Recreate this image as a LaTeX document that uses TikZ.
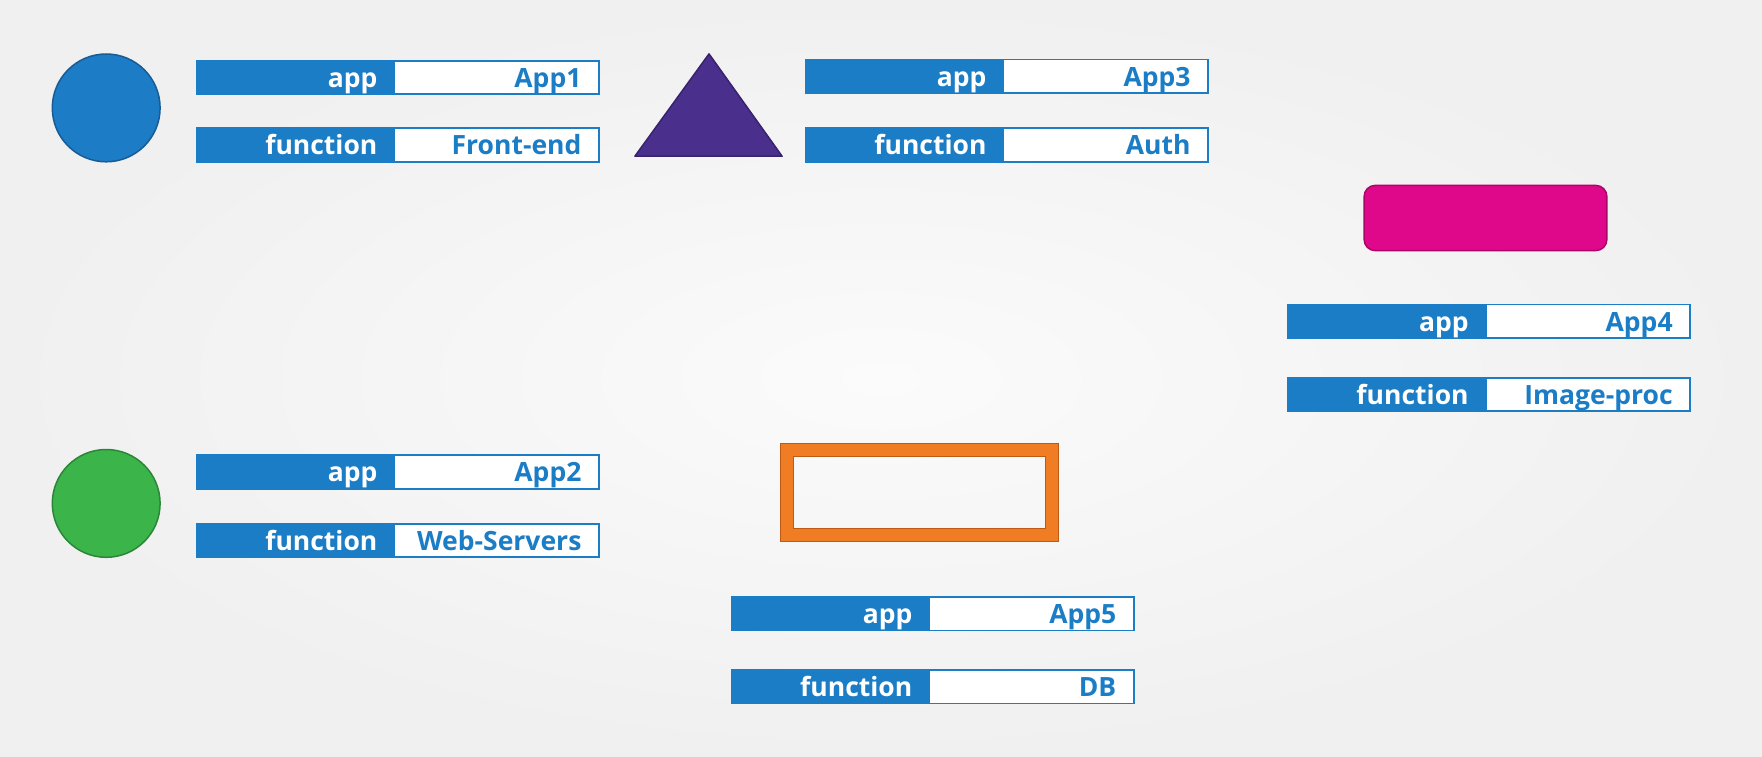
\documentclass[tikz,border=0pt]{standalone}
\usepackage{fontspec}
\setmainfont{Open Sans}
\begin{document}
\begin{tikzpicture}[x=1pt,y=-1pt]
\definecolor{barblue}{RGB}{27,125,198}
\definecolor{cblue}{RGB}{28,124,197}
\definecolor{cblueb}{RGB}{24,92,150}
\definecolor{cgreen}{RGB}{59,180,74}
\definecolor{cgreenb}{RGB}{44,134,56}
\definecolor{cpurple}{RGB}{74,47,141}
\definecolor{cpurpleb}{RGB}{56,34,110}
\definecolor{cpink}{RGB}{224,8,138}
\definecolor{cpinkb}{RGB}{170,6,104}
\definecolor{corange}{RGB}{240,124,35}
\definecolor{corangeb}{RGB}{190,90,20}
\definecolor{bgout}{RGB}{240,240,240}
\definecolor{bgin}{RGB}{251,251,251}
\tikzset{
  keycell/.style={draw=barblue, line width=1.8pt, fill=barblue, text=white,
    anchor=north west, minimum height=33.7pt, inner xsep=4pt, inner ysep=0pt,
    text width=189.8pt, align=right, text height=19.8pt, text depth=0pt, outer sep=0pt,
    font=\bfseries\fontsize{26.5}{26.5}\selectfont},
  valcell/.style={keycell, fill=white, text=barblue, text width=196.5pt},
  shapeline/.style={line width=1.5pt}
}
\newcommand\tagrow[4]{%
  \node[keycell] (#1k) at (#2) {\mbox{#3}\kern13pt};
  \node[valcell, anchor=north west] (#1v) at (#1k.north east) {\mbox{#4}\kern13.5pt};
}
\useasboundingbox (0,0) rectangle (1762,757);
\shade[inner color=bgin, outer color=bgout] (0,0) rectangle (1762,757);

% set 1
\node[circle, minimum size=107.8pt, fill=cblue, draw=cblueb, shapeline] (c1) at (106.2,107.9) {};
\tagrow{a1}{196.6,60.7}{app}{App1}
\tagrow{f1}{196.6,128.1}{function}{Front-end}

% set 3
\draw[fill=cpurple, draw=cpurpleb, shapeline, line join=round] (634.9,156.2) -- (709,53.9) -- (782.1,156.2) -- cycle;
\tagrow{a3}{805.7,59.6}{app}{App3}
\tagrow{f3}{805.7,128.1}{function}{Auth}

% set 4
\node[rectangle, rounded corners=11pt, minimum width=242.7pt, minimum height=65.2pt, fill=cpink, draw=cpinkb, shapeline] (pink) at (1485.5,218) {};
\tagrow{a4}{1287.8,304.5}{app}{App4}
\tagrow{f4}{1287.8,377.6}{function}{Image-proc}

% set 2
\node[circle, minimum size=107.8pt, fill=cgreen, draw=cgreenb, shapeline] (c2) at (106.2,503.4) {};
\tagrow{a2}{196.6,455.1}{app}{App2}
\tagrow{f2}{196.6,523.6}{function}{Web-Servers}

% set 5
\draw[corange, line width=13pt] (786.5,450) rectangle (1052.3,534.9);
\draw[corangeb, line width=1pt] (780,443.5) rectangle (1058.8,541.4);
\draw[corangeb, line width=1pt] (793,456.5) rectangle (1045.8,528.4);
\tagrow{a5}{731.5,596.7}{app}{App5}
\tagrow{f5}{731.5,669.7}{function}{DB}
\end{tikzpicture}
\end{document}
